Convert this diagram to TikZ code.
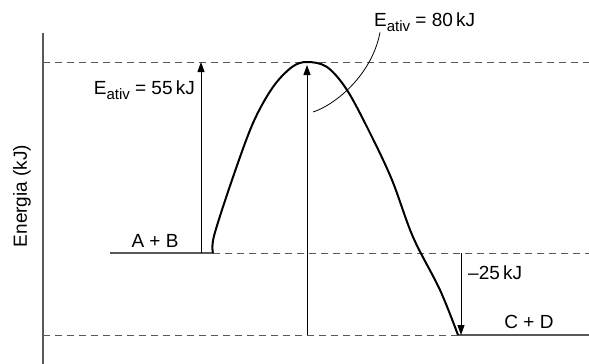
\documentclass[tikz,border=0pt]{standalone}
\usepackage{fontspec}
\setmainfont{Liberation Sans}
\usetikzlibrary{arrows.meta}

\tikzset{
  level/.style={draw=black!65, line width=1.2pt},
  guide/.style={draw=black!65, line width=0.9pt, dash pattern=on 7pt off 5pt},
  energy/.style={draw=black, line width=0.9pt, -{Triangle[length=10pt,width=7pt]}},
  profile/.style={draw=black, line width=2pt},
  lbl/.style={font=\fontsize{19}{22}\selectfont, inner sep=0pt},
}
\newcommand{\Eativ}{E\raisebox{-5pt}{\fontsize{15}{15}\selectfont ativ}}

\begin{document}
\begin{tikzpicture}[x=1pt,y=-1pt]
  \useasboundingbox (0,0) rectangle (589,364);

  % Axis and energy levels
  \coordinate (axtop) at (43,33);
  \coordinate (axbot) at (43,364);
  \coordinate (ts0) at (43,62);   \coordinate (ts1) at (589,62);
  \coordinate (ab0) at (110,253); \coordinate (ab1) at (213,253); \coordinate (ab2) at (589,253);
  \coordinate (cd0) at (43,335);  \coordinate (cd1) at (458,335); \coordinate (cd2) at (589,335);

  \draw[level] (axtop) -- (axbot);
  \draw[guide] (ts0) -- (ts1);
  \draw[level] (ab0) -- (ab1);
  \draw[guide] (ab1) -- (ab2);
  \draw[guide] (cd0) -- (cd1);
  \draw[level] (cd1) -- (cd2);

  % Reaction profile
  \draw[profile] plot[smooth, tension=0.55] coordinates {
    (ab1) (214,236) (232,180) (253,123) (273,87) (292,67) (307,62)
    (327,67) (347,90) (370,133) (392,180) (413,237) (440,290) (458,335)};

  % Energy differences
  \coordinate (a55b) at (201,253); \coordinate (a55t) at (201,62);
  \coordinate (a80b) at (307,335); \coordinate (a80t) at (307,65);
  \coordinate (dhb) at (461,253);  \coordinate (dht) at (461,335);
  \draw[energy] (a55b) -- (a55t);
  \draw[energy] (a80b) -- (a80t);
  \draw[energy] (dhb) -- (dht);

  % Labels
  \node[lbl, anchor=base east] (ea55) at (195,94) {\Eativ{} = 55\,kJ};
  \node[lbl, anchor=base west] (ea80) at (374,27) {\Eativ{} = 80\,kJ};
  \node[lbl, anchor=base] (ab) at (155,247) {A + B};
  \node[lbl, anchor=base] (cd) at (529,328) {C + D};
  \node[lbl, anchor=base west] (dh) at (468,279) {–25\,kJ};
  \node[lbl, anchor=base, rotate=90] (ylabel) at (27,196) {Energia (kJ)};

  % Leader to the 80 kJ arrow
  \coordinate (lead) at (313,112);
  \draw[line width=0.8pt] ([xshift=6pt]ea80.south west) .. controls (372,75) and (335,105) .. (lead);
\end{tikzpicture}
\end{document}
